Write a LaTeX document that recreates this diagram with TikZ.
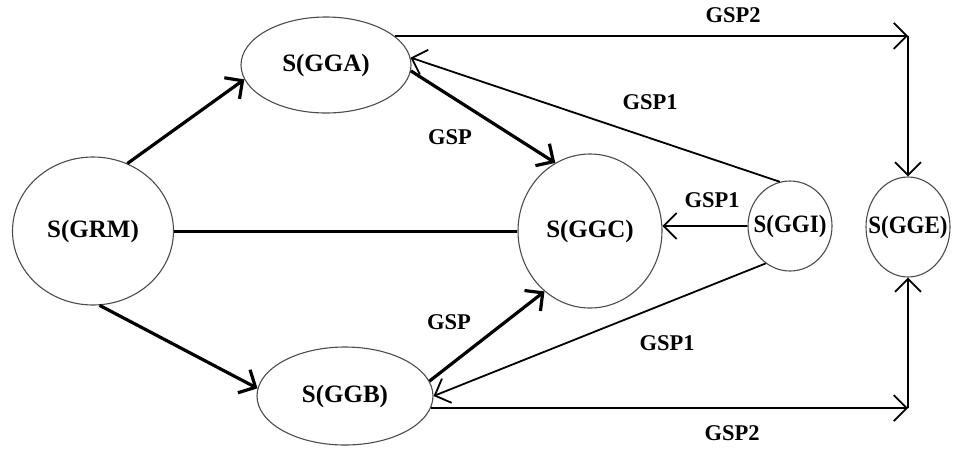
\documentclass[tikz,border=0pt]{standalone}
\usepackage{fontspec}
\setmainfont{Liberation Serif}
\usetikzlibrary{arrows.meta,shapes.geometric}
\begin{document}
\begin{tikzpicture}[x=1pt,y=-1pt,
  state/.style={draw=black!70, line width=1.1pt, ellipse, inner sep=0pt},
  statetext/.style={font=\fontsize{25}{25}\selectfont\bfseries},
  elabel/.style={font=\fontsize{22.5}{22.5}\selectfont\bfseries, inner sep=0pt},
  barb/.style={-{Straight Barb[length=13pt,width=26pt]}},
  flow/.style={line width=3.2pt, barb},
  thinflow/.style={line width=1.8pt, barb},
]
\useasboundingbox (0,0) rectangle (953,448);

% states
\node[state, minimum width=161pt, minimum height=148pt,
      label={[statetext]center:S(GRM)}] (grm) at (93,231) {};
\node[state, minimum width=170pt, minimum height=96pt,
      label={[statetext]center:S(GGA)}] (gga) at (326,65) {};
\node[state, minimum width=176pt, minimum height=98pt,
      label={[statetext]center:S(GGB)}] (ggb) at (345,396) {};
\node[state, minimum width=144pt, minimum height=154pt,
      label={[statetext]center:S(GGC)}] (ggc) at (590,231) {};
\node[state, minimum width=84pt, minimum height=90pt,
      label={[statetext, xscale=0.92]center:S(GGI)}] (ggi) at (790,226) {};
\node[state, minimum width=84pt, minimum height=100pt,
      label={[statetext, xscale=0.92]center:S(GGE)}] (gge) at (908,227) {};

% thick transitions
\draw[flow] (grm.63) -- (gga.190);
\draw[flow] (grm.-85) -- (ggb.175);
\draw[flow] (gga.-4) -- (ggc.117);
\draw[flow] (ggb.10) -- (ggc.233);
\draw[line width=3pt] (grm.east) -- (ggc.west);

% GSP1 transitions out of S(GGI)
\draw[thinflow] (ggi.103) -- (gga.5);
\draw[thinflow] (ggi.west) -- (ggc.4);
\draw[thinflow] (ggi.237) -- (ggb.0);

% GSP2 transitions into S(GGE)
\draw[thinflow] (gga.23) -- (gga.23 -| gge.north) coordinate (ne);
\draw[thinflow] (ne) -- (gge.north);
\draw[thinflow] (ggb.-8) -- (ggb.-8 -| gge.south) coordinate (se);
\draw[thinflow] (se) -- (gge.south);

% edge labels
\node[elabel] (l2top) at (733,15) {GSP2};
\node[elabel] (l2bot) at (732,433) {GSP2};
\node[elabel] (l1up) at (650,102) {GSP1};
\node[elabel] (l1mid) at (712,200) {GSP1};
\node[elabel] (l1low) at (667,343) {GSP1};
\node[elabel] (lup) at (450,137) {GSP};
\node[elabel] (llow) at (449,322) {GSP};
\end{tikzpicture}
\end{document}
